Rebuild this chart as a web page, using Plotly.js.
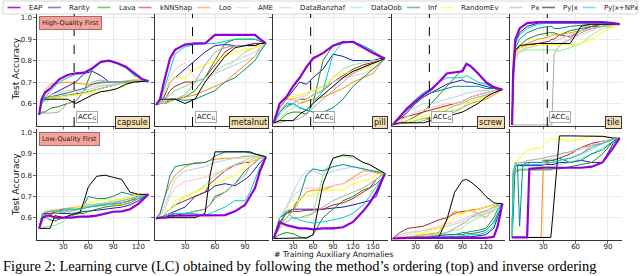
<!DOCTYPE html>
<html><head><meta charset="utf-8">
<script src="https://cdn.plot.ly/plotly-3.0.1.min.js"></script>
<style>html,body{margin:0;padding:0;background:#fff}#chart{width:640px;height:276px}</style>
</head><body><div id="chart"></div>
<script>
// ---------------- DATA ----------------
const methods = ['EAP','Rarity','Lava','kNNShap','Loo','AME','DataBanzhaf','DataOob','Inf','RandomEv','Px','Py|x','Py|x+NPx'];
const datasets = ['capsule','metalnut','pill','screw','tile'];
const accG = [43, 37.5, 56.5, 47.7, 33.7];
const xTickVals = [[30,60,90,120],[30,60,90],[30,60,90,120,150],[30,60,90,120],[30,60,90]];
const yTickVals = [0.6,0.7,0.8,0.9,1.0];

// Row 1: High-Quality First (rows follow `methods` order)
const hq_capsule_x = [1,4,8,15,25,35,45,55,65,75,85,95,105,115,125,132];
const hq_capsule = [
 [0.547,0.62,0.65,0.672,0.713,0.733,0.741,0.744,0.765,0.795,0.8,0.788,0.772,0.741,0.713,0.705],
 [0.547,0.6,0.62,0.64,0.66,0.68,0.7,0.74,0.75,0.73,0.7,0.7,0.7,0.705,0.705,0.705],
 [0.547,0.56,0.56,0.578,0.586,0.6,0.61,0.66,0.76,0.795,0.8,0.79,0.77,0.735,0.71,0.705],
 [0.547,0.61,0.62,0.63,0.63,0.64,0.645,0.65,0.66,0.67,0.68,0.69,0.7,0.7,0.705,0.705],
 [0.547,0.6,0.66,0.69,0.695,0.7,0.695,0.69,0.69,0.695,0.7,0.7,0.705,0.71,0.71,0.705],
 [0.547,0.62,0.63,0.64,0.65,0.66,0.665,0.67,0.68,0.685,0.69,0.695,0.7,0.705,0.71,0.705],
 [0.547,0.6,0.62,0.63,0.64,0.64,0.65,0.66,0.67,0.68,0.685,0.69,0.695,0.7,0.705,0.7],
 [0.547,0.6,0.61,0.62,0.63,0.635,0.64,0.65,0.66,0.67,0.68,0.69,0.7,0.7,0.71,0.705],
 [0.547,0.61,0.625,0.63,0.64,0.65,0.66,0.67,0.69,0.7,0.7,0.7,0.7,0.7,0.705,0.7],
 [0.547,0.61,0.62,0.63,0.63,0.635,0.64,0.645,0.65,0.655,0.66,0.67,0.685,0.7,0.71,0.705],
 [0.547,0.555,0.555,0.555,0.56,0.6,0.61,0.66,0.7,0.71,0.7,0.7,0.7,0.705,0.71,0.705],
 [0.547,0.62,0.62,0.62,0.62,0.62,0.6,0.62,0.64,0.655,0.66,0.67,0.69,0.7,0.705,0.705],
 [0.547,0.6,0.63,0.66,0.7,0.72,0.735,0.74,0.76,0.79,0.8,0.785,0.765,0.73,0.71,0.7]
];
const hq_metalnut_x = [1,5,10,15,20,30,40,50,60,70,80,90,100,105,111];
const hq_metalnut = [
 [0.594,0.62,0.72,0.81,0.85,0.875,0.88,0.88,0.92,0.92,0.92,0.92,0.92,0.9,0.88],
 [0.594,0.6,0.64,0.7,0.72,0.76,0.8,0.84,0.87,0.875,0.87,0.87,0.88,0.88,0.88],
 [0.594,0.6,0.6,0.62,0.62,0.63,0.66,0.72,0.8,0.88,0.9,0.9,0.9,0.89,0.88],
 [0.594,0.6,0.62,0.66,0.68,0.7,0.7,0.72,0.78,0.84,0.87,0.87,0.88,0.88,0.88],
 [0.594,0.6,0.61,0.62,0.62,0.63,0.64,0.66,0.68,0.7,0.74,0.78,0.82,0.86,0.88],
 [0.594,0.6,0.66,0.72,0.76,0.79,0.72,0.7,0.74,0.76,0.8,0.82,0.84,0.86,0.88],
 [0.594,0.61,0.63,0.64,0.66,0.68,0.7,0.72,0.74,0.76,0.78,0.8,0.82,0.85,0.88],
 [0.594,0.6,0.62,0.64,0.66,0.68,0.7,0.72,0.75,0.78,0.8,0.84,0.86,0.87,0.88],
 [0.594,0.6,0.6,0.61,0.62,0.615,0.62,0.64,0.66,0.7,0.72,0.76,0.8,0.84,0.88],
 [0.594,0.62,0.65,0.7,0.72,0.72,0.76,0.78,0.8,0.82,0.84,0.85,0.86,0.87,0.88],
 [0.594,0.6,0.6,0.61,0.62,0.64,0.7,0.78,0.84,0.86,0.87,0.87,0.87,0.88,0.88],
 [0.594,0.62,0.62,0.62,0.62,0.6,0.62,0.7,0.76,0.82,0.86,0.87,0.87,0.88,0.88],
 [0.594,0.61,0.68,0.76,0.83,0.865,0.875,0.88,0.88,0.89,0.9,0.9,0.9,0.89,0.88]
];
const hq_pill_x = [1,10,20,30,40,50,60,75,90,105,120,135,150,160,168];
const hq_pill = [
 [0.509,0.6,0.63,0.68,0.72,0.77,0.81,0.835,0.87,0.885,0.888,0.86,0.835,0.82,0.81],
 [0.509,0.58,0.62,0.66,0.7,0.69,0.72,0.76,0.83,0.82,0.8,0.8,0.8,0.81,0.81],
 [0.509,0.52,0.55,0.56,0.56,0.55,0.6,0.8,0.87,0.89,0.888,0.87,0.845,0.825,0.81],
 [0.509,0.55,0.58,0.6,0.62,0.62,0.64,0.66,0.7,0.73,0.76,0.78,0.79,0.8,0.81],
 [0.509,0.58,0.62,0.62,0.6,0.61,0.62,0.63,0.65,0.67,0.7,0.72,0.74,0.78,0.81],
 [0.509,0.56,0.6,0.62,0.63,0.65,0.66,0.68,0.7,0.72,0.73,0.74,0.76,0.78,0.81],
 [0.509,0.55,0.58,0.6,0.62,0.64,0.66,0.68,0.7,0.72,0.74,0.76,0.78,0.8,0.81],
 [0.509,0.53,0.56,0.58,0.6,0.62,0.64,0.66,0.72,0.76,0.78,0.79,0.8,0.8,0.81],
 [0.509,0.56,0.59,0.6,0.58,0.57,0.56,0.56,0.58,0.62,0.68,0.72,0.76,0.79,0.81],
 [0.509,0.6,0.63,0.63,0.64,0.65,0.66,0.68,0.72,0.74,0.75,0.76,0.78,0.8,0.81],
 [0.509,0.51,0.52,0.52,0.53,0.55,0.58,0.62,0.66,0.7,0.74,0.77,0.79,0.8,0.81],
 [0.509,0.52,0.52,0.52,0.55,0.57,0.6,0.64,0.68,0.72,0.75,0.77,0.79,0.8,0.81],
 [0.509,0.56,0.6,0.6,0.58,0.57,0.6,0.66,0.83,0.888,0.89,0.87,0.84,0.825,0.81]
];
const hq_screw_x = [1,10,20,30,40,50,60,70,80,90,95,100,110,120,130,141];
const hq_screw = [
 [0.501,0.54,0.58,0.61,0.64,0.665,0.7,0.74,0.745,0.75,0.785,0.775,0.74,0.7,0.675,0.665],
 [0.501,0.53,0.56,0.6,0.63,0.65,0.67,0.69,0.7,0.71,0.7,0.7,0.69,0.68,0.67,0.665],
 [0.501,0.51,0.52,0.54,0.56,0.6,0.64,0.68,0.72,0.76,0.785,0.775,0.74,0.7,0.68,0.665],
 [0.501,0.53,0.54,0.55,0.56,0.57,0.58,0.59,0.6,0.61,0.62,0.63,0.64,0.65,0.66,0.665],
 [0.501,0.51,0.51,0.52,0.53,0.53,0.54,0.55,0.56,0.58,0.59,0.6,0.61,0.62,0.64,0.665],
 [0.501,0.52,0.54,0.56,0.57,0.58,0.59,0.6,0.6,0.61,0.62,0.63,0.64,0.65,0.66,0.665],
 [0.501,0.54,0.57,0.58,0.6,0.6,0.61,0.62,0.63,0.64,0.65,0.65,0.66,0.66,0.67,0.665],
 [0.501,0.505,0.51,0.52,0.53,0.54,0.55,0.56,0.57,0.58,0.6,0.61,0.62,0.64,0.65,0.665],
 [0.501,0.54,0.57,0.6,0.63,0.65,0.66,0.67,0.68,0.68,0.68,0.68,0.68,0.67,0.67,0.665],
 [0.501,0.51,0.52,0.53,0.54,0.55,0.57,0.58,0.59,0.6,0.61,0.61,0.62,0.63,0.65,0.665],
 [0.501,0.505,0.51,0.51,0.52,0.53,0.55,0.57,0.59,0.6,0.61,0.62,0.63,0.64,0.65,0.665],
 [0.501,0.51,0.51,0.51,0.51,0.52,0.53,0.54,0.55,0.56,0.57,0.58,0.6,0.63,0.65,0.665],
 [0.501,0.54,0.58,0.62,0.65,0.67,0.7,0.72,0.72,0.72,0.73,0.72,0.7,0.69,0.675,0.665]
];
const hq_tile_x = [1,2,4,8,15,25,35,38,40,45,55,65,75,85,95,101];
const hq_tile = [
 [0.5,0.75,0.9,0.95,0.975,0.98,0.98,0.98,0.98,0.98,0.98,0.98,0.98,0.98,0.975,0.97],
 [0.5,0.72,0.88,0.93,0.96,0.975,0.975,0.975,0.975,0.975,0.975,0.975,0.975,0.975,0.975,0.97],
 [0.5,0.7,0.84,0.87,0.9,0.92,0.93,0.93,0.93,0.92,0.94,0.95,0.96,0.96,0.97,0.97],
 [0.5,0.72,0.84,0.86,0.87,0.88,0.89,0.9,0.9,0.92,0.91,0.94,0.96,0.97,0.97,0.97],
 [0.5,0.7,0.84,0.86,0.88,0.9,0.91,0.92,0.92,0.92,0.93,0.94,0.95,0.96,0.965,0.97],
 [0.5,0.72,0.82,0.85,0.86,0.87,0.88,0.88,0.88,0.88,0.9,0.92,0.94,0.96,0.96,0.97],
 [0.5,0.68,0.8,0.84,0.86,0.87,0.88,0.89,0.89,0.9,0.92,0.94,0.95,0.96,0.965,0.97],
 [0.5,0.68,0.82,0.84,0.85,0.85,0.85,0.85,0.85,0.845,0.86,0.88,0.92,0.95,0.96,0.97],
 [0.5,0.7,0.86,0.9,0.93,0.95,0.96,0.96,0.95,0.95,0.96,0.965,0.97,0.97,0.97,0.97],
 [0.5,0.7,0.83,0.86,0.87,0.87,0.875,0.875,0.875,0.875,0.875,0.88,0.9,0.93,0.96,0.97],
 [0.5,0.5,0.5,0.5,0.5,0.5,0.5,0.5,0.83,0.87,0.9,0.93,0.95,0.96,0.97,0.97],
 [0.5,0.72,0.85,0.87,0.875,0.88,0.88,0.88,0.88,0.88,0.88,0.96,0.97,0.97,0.97,0.97],
 [0.5,0.74,0.88,0.92,0.95,0.97,0.975,0.975,0.975,0.975,0.975,0.975,0.975,0.975,0.975,0.97]
];

// Row 2: Low-Quality First
const lq_capsule_x = [1,5,10,14,20,30,40,50,55,60,70,80,90,100,110,120,132];
const lq_capsule = [
 [0.55,0.6,0.61,0.61,0.6,0.6,0.6,0.605,0.605,0.605,0.61,0.62,0.628,0.63,0.64,0.665,0.71],
 [0.55,0.62,0.62,0.62,0.62,0.62,0.62,0.625,0.63,0.63,0.635,0.64,0.645,0.65,0.66,0.68,0.71],
 [0.55,0.6,0.6,0.59,0.585,0.6,0.61,0.62,0.62,0.63,0.64,0.65,0.655,0.66,0.67,0.69,0.71],
 [0.55,0.61,0.62,0.62,0.625,0.63,0.635,0.64,0.645,0.65,0.655,0.66,0.665,0.67,0.68,0.7,0.71],
 [0.55,0.62,0.63,0.63,0.635,0.64,0.645,0.65,0.655,0.66,0.66,0.665,0.66,0.66,0.67,0.69,0.71],
 [0.55,0.62,0.63,0.635,0.64,0.64,0.65,0.65,0.655,0.66,0.665,0.67,0.675,0.68,0.69,0.7,0.71],
 [0.55,0.58,0.6,0.61,0.62,0.63,0.635,0.64,0.65,0.655,0.66,0.665,0.67,0.68,0.69,0.7,0.71],
 [0.55,0.55,0.56,0.56,0.565,0.58,0.62,0.63,0.65,0.66,0.665,0.67,0.68,0.69,0.7,0.71,0.71],
 [0.55,0.62,0.63,0.63,0.63,0.64,0.64,0.64,0.66,0.7,0.69,0.69,0.7,0.72,0.71,0.7,0.71],
 [0.55,0.62,0.63,0.63,0.63,0.635,0.64,0.65,0.66,0.67,0.68,0.685,0.68,0.69,0.7,0.705,0.71],
 [0.55,0.6,0.61,0.615,0.62,0.625,0.63,0.64,0.645,0.65,0.66,0.665,0.67,0.68,0.69,0.7,0.71],
 [0.55,0.55,0.55,0.55,0.61,0.6,0.615,0.625,0.68,0.745,0.795,0.8,0.79,0.78,0.72,0.71,0.71],
 [0.55,0.62,0.625,0.63,0.63,0.635,0.64,0.64,0.645,0.65,0.655,0.66,0.665,0.67,0.68,0.69,0.71]
];
const lq_metalnut_x = [1,5,10,15,20,30,40,50,55,60,70,80,90,95,100,105,111];
const lq_metalnut = [
 [0.596,0.6,0.6,0.61,0.61,0.61,0.612,0.612,0.612,0.612,0.612,0.63,0.66,0.7,0.74,0.82,0.887],
 [0.596,0.6,0.61,0.62,0.63,0.65,0.7,0.72,0.73,0.75,0.76,0.75,0.78,0.8,0.83,0.86,0.887],
 [0.596,0.6,0.6,0.6,0.61,0.62,0.63,0.64,0.66,0.7,0.72,0.76,0.82,0.84,0.86,0.88,0.887],
 [0.596,0.6,0.62,0.64,0.66,0.68,0.7,0.72,0.76,0.78,0.82,0.85,0.86,0.86,0.87,0.88,0.887],
 [0.596,0.62,0.7,0.76,0.8,0.84,0.86,0.86,0.87,0.875,0.88,0.88,0.89,0.89,0.89,0.89,0.887],
 [0.596,0.61,0.64,0.7,0.74,0.77,0.78,0.79,0.8,0.81,0.82,0.84,0.86,0.87,0.88,0.885,0.887],
 [0.596,0.61,0.66,0.72,0.78,0.82,0.83,0.84,0.85,0.86,0.87,0.88,0.88,0.89,0.89,0.89,0.887],
 [0.596,0.6,0.62,0.64,0.66,0.7,0.72,0.75,0.78,0.8,0.83,0.85,0.87,0.88,0.885,0.885,0.887],
 [0.596,0.62,0.7,0.8,0.84,0.85,0.855,0.86,0.87,0.89,0.91,0.91,0.91,0.905,0.9,0.895,0.887],
 [0.596,0.6,0.62,0.64,0.68,0.7,0.72,0.74,0.75,0.76,0.78,0.8,0.84,0.86,0.87,0.88,0.887],
 [0.596,0.6,0.6,0.61,0.62,0.62,0.63,0.64,0.66,0.69,0.72,0.76,0.8,0.84,0.86,0.88,0.887],
 [0.596,0.6,0.6,0.6,0.6,0.6,0.6,0.62,0.8,0.91,0.91,0.91,0.91,0.91,0.9,0.895,0.887],
 [0.596,0.6,0.61,0.62,0.62,0.62,0.62,0.61,0.62,0.63,0.65,0.68,0.68,0.72,0.78,0.84,0.887]
];
const lq_pill_x = [1,10,20,30,40,50,60,75,90,105,120,135,145,155,162,168];
const lq_pill = [
 [0.502,0.58,0.565,0.557,0.55,0.55,0.545,0.55,0.55,0.555,0.58,0.63,0.67,0.72,0.77,0.808],
 [0.502,0.6,0.62,0.64,0.64,0.64,0.64,0.64,0.645,0.65,0.66,0.67,0.68,0.7,0.76,0.808],
 [0.502,0.52,0.53,0.525,0.51,0.502,0.52,0.6,0.64,0.68,0.7,0.73,0.74,0.76,0.78,0.808],
 [0.502,0.58,0.62,0.63,0.63,0.635,0.635,0.64,0.66,0.67,0.69,0.72,0.74,0.78,0.8,0.808],
 [0.502,0.56,0.6,0.63,0.68,0.72,0.73,0.73,0.75,0.76,0.79,0.82,0.82,0.81,0.81,0.808],
 [0.502,0.6,0.64,0.7,0.73,0.74,0.74,0.74,0.75,0.76,0.78,0.8,0.81,0.82,0.81,0.808],
 [0.502,0.6,0.65,0.72,0.78,0.82,0.82,0.8,0.82,0.83,0.84,0.83,0.82,0.82,0.81,0.808],
 [0.502,0.58,0.6,0.6,0.6,0.6,0.62,0.8,0.88,0.89,0.88,0.86,0.85,0.83,0.82,0.808],
 [0.502,0.56,0.63,0.64,0.7,0.8,0.83,0.82,0.84,0.85,0.84,0.83,0.82,0.815,0.81,0.808],
 [0.502,0.6,0.63,0.66,0.69,0.7,0.71,0.73,0.73,0.73,0.76,0.77,0.78,0.8,0.81,0.808],
 [0.502,0.55,0.58,0.6,0.6,0.61,0.62,0.65,0.68,0.7,0.72,0.74,0.76,0.78,0.8,0.808],
 [0.502,0.502,0.502,0.502,0.502,0.505,0.52,0.76,0.88,0.895,0.89,0.86,0.85,0.83,0.82,0.808],
 [0.502,0.6,0.63,0.6,0.59,0.58,0.575,0.58,0.59,0.6,0.62,0.66,0.7,0.75,0.78,0.808]
];
const lq_screw_x = [1,10,20,30,40,50,60,70,80,90,95,100,110,120,130,135,141];
const lq_screw = [
 [0.502,0.505,0.505,0.505,0.505,0.505,0.505,0.505,0.505,0.505,0.505,0.505,0.505,0.505,0.51,0.56,0.667],
 [0.502,0.505,0.505,0.505,0.505,0.505,0.505,0.51,0.51,0.51,0.51,0.51,0.515,0.52,0.55,0.6,0.667],
 [0.502,0.505,0.505,0.505,0.51,0.51,0.515,0.52,0.52,0.52,0.525,0.525,0.53,0.54,0.58,0.62,0.667],
 [0.502,0.53,0.55,0.555,0.56,0.575,0.59,0.6,0.62,0.63,0.63,0.635,0.64,0.65,0.66,0.665,0.667],
 [0.502,0.505,0.51,0.515,0.52,0.525,0.53,0.59,0.63,0.62,0.63,0.635,0.62,0.6,0.64,0.66,0.667],
 [0.502,0.51,0.52,0.53,0.54,0.55,0.56,0.57,0.58,0.59,0.6,0.61,0.62,0.635,0.65,0.66,0.667],
 [0.502,0.52,0.53,0.535,0.54,0.545,0.55,0.56,0.57,0.58,0.59,0.6,0.61,0.62,0.64,0.655,0.667],
 [0.502,0.505,0.51,0.51,0.515,0.52,0.525,0.53,0.54,0.55,0.57,0.58,0.6,0.62,0.63,0.65,0.667],
 [0.502,0.505,0.505,0.51,0.51,0.51,0.515,0.52,0.52,0.53,0.53,0.535,0.54,0.55,0.6,0.64,0.667],
 [0.502,0.505,0.51,0.52,0.53,0.54,0.55,0.57,0.6,0.62,0.63,0.63,0.64,0.65,0.66,0.665,0.667],
 [0.502,0.505,0.505,0.51,0.51,0.515,0.52,0.53,0.55,0.57,0.58,0.6,0.62,0.63,0.65,0.66,0.667],
 [0.502,0.505,0.505,0.505,0.505,0.505,0.51,0.59,0.72,0.775,0.78,0.77,0.74,0.7,0.67,0.667,0.667],
 [0.502,0.505,0.505,0.505,0.505,0.505,0.51,0.51,0.51,0.515,0.515,0.52,0.52,0.53,0.56,0.62,0.667]
];
const lq_tile_x = [1,2,4,6,8,11,15,17,28,30,37,39,45,55,65,75,85,95,101];
const lq_tile = [
 [0.507,0.507,0.507,0.507,0.507,0.507,0.507,0.83,0.835,0.835,0.835,0.835,0.835,0.835,0.835,0.84,0.86,0.93,0.974],
 [0.507,0.8,0.84,0.845,0.845,0.845,0.845,0.845,0.845,0.85,0.85,0.85,0.86,0.86,0.87,0.86,0.86,0.95,0.974],
 [0.507,0.78,0.82,0.82,0.825,0.825,0.825,0.825,0.825,0.825,0.825,0.83,0.83,0.84,0.85,0.86,0.9,0.96,0.974],
 [0.507,0.8,0.84,0.85,0.85,0.85,0.85,0.86,0.86,0.86,0.87,0.87,0.88,0.9,0.93,0.95,0.96,0.97,0.974],
 [0.507,0.507,0.507,0.507,0.507,0.507,0.507,0.507,0.507,0.85,0.86,0.86,0.87,0.88,0.9,0.94,0.95,0.97,0.974],
 [0.507,0.8,0.84,0.85,0.85,0.86,0.86,0.86,0.86,0.87,0.88,0.88,0.9,0.91,0.92,0.94,0.96,0.97,0.974],
 [0.507,0.82,0.85,0.86,0.86,0.86,0.86,0.86,0.86,0.86,0.86,0.86,0.87,0.88,0.9,0.92,0.95,0.97,0.974],
 [0.507,0.78,0.82,0.83,0.83,0.83,0.83,0.83,0.84,0.84,0.84,0.84,0.85,0.86,0.88,0.9,0.93,0.96,0.974],
 [0.507,0.6,0.86,0.85,0.56,0.85,0.86,0.86,0.86,0.87,0.87,0.87,0.88,0.86,0.87,0.9,0.92,0.96,0.974],
 [0.507,0.8,0.85,0.87,0.88,0.9,0.92,0.92,0.93,0.94,0.97,0.97,0.97,0.96,0.97,0.985,0.98,0.975,0.974],
 [0.507,0.8,0.84,0.85,0.86,0.86,0.87,0.87,0.88,0.88,0.89,0.89,0.9,0.91,0.93,0.94,0.95,0.97,0.974],
 [0.507,0.507,0.507,0.507,0.507,0.507,0.507,0.507,0.507,0.507,0.507,0.62,0.985,0.985,0.985,0.985,0.983,0.975,0.974],
 [0.507,0.82,0.85,0.85,0.85,0.85,0.85,0.85,0.85,0.86,0.86,0.86,0.87,0.88,0.9,0.93,0.95,0.97,0.974]
];

// ---------------- STYLE / LAYOUT ----------------
const lineColors = ['#9400d3','#1c1cb4','#1e8a1e','#b22222','#ff8c00','#ffc0cb','#add8e6','#90ee90','#008b8b','#ffff00','#a9a9a9','#000000','#00ced1'];
const legendAlpha = 0.55;
const legendTextX = [26.5,67,116.5,157.5,216.5,255.5,298,368.5,426,458.5,528.5,561,601.5];
const W = 640, H = 276;
const px = v => v / W, py = v => 1 - v / H;
const colDom = [[37.3,150],[155,269],[273,388],[392,505],[509.5,622]];
const rowDom = [[14,126],[129,240]];
const xRanges = [[-1.2,134],[0,114],[0,172.5],[0,144.3],[-1.4,103.1]];
const yRange = [0.495,1.0175];
const FONT = 'DejaVu Sans';

const rowsX = [[hq_capsule_x,hq_metalnut_x,hq_pill_x,hq_screw_x,hq_tile_x],[lq_capsule_x,lq_metalnut_x,lq_pill_x,lq_screw_x,lq_tile_x]];
const rowsY = [[hq_capsule,hq_metalnut,hq_pill,hq_screw,hq_tile],[lq_capsule,lq_metalnut,lq_pill,lq_screw,lq_tile]];

function hexToRgba(h,a){const n=parseInt(h.slice(1),16);return `rgba(${n>>16&255},${n>>8&255},${n&255},${a})`;}

const traces = [];
const layout = {
  width: W, height: H, margin: {l:0,r:0,t:0,b:0},
  paper_bgcolor: 'white', plot_bgcolor: 'white', showlegend: false,
  font: {family: FONT, size: 7, color: '#222'},
  annotations: [], shapes: []
};

for (let r = 0; r < 2; r++) {
  for (let c = 0; c < 5; c++) {
    const k = r*5 + c + 1;
    const sfx = k === 1 ? '' : String(k);
    const xs = rowsX[r][c], ys = rowsY[r][c];
    const order = [1,2,3,4,5,6,7,8,9,10,11,12,0];
    order.forEach(m => {
      traces.push({
        type: 'scatter', mode: 'lines', name: methods[m],
        x: xs, y: ys[m], xaxis: 'x'+sfx, yaxis: 'y'+sfx,
        line: {color: lineColors[m], width: m === 0 ? 2.2 : 1},
        hoverinfo: 'skip'
      });
    });
    layout['xaxis'+sfx] = {
      domain: [px(colDom[c][0]), px(colDom[c][1])], range: xRanges[c], anchor: 'y'+sfx,
      tickmode: 'array', tickvals: xTickVals[c], showticklabels: r === 1,
      ticks: 'outside', ticklen: 3, tickcolor: '#444', tickwidth: 0.8, ticklabelstandoff: -3,
      showline: true, linecolor: '#333', linewidth: 1, mirror: false,
      showgrid: true, gridcolor: '#e6e6e6', gridwidth: 0.8, zeroline: false,
      tickfont: {family: FONT, size: 7, color: '#222'}, fixedrange: true
    };
    layout['yaxis'+sfx] = {
      domain: [py(rowDom[r][1]), py(rowDom[r][0])], range: yRange, anchor: 'x'+sfx,
      tickmode: 'array', tickvals: yTickVals, tickformat: '.1f', showticklabels: c === 0,
      ticks: 'outside', ticklen: 3, tickcolor: '#444', tickwidth: 0.8,
      showline: true, linecolor: '#333', linewidth: 1, mirror: false,
      showgrid: true, gridcolor: '#e6e6e6', gridwidth: 0.8, zeroline: false,
      tickfont: {family: FONT, size: 7, color: '#222'}, fixedrange: true
    };
    if (r === 0) {
      layout.shapes.push({type:'line', xref:'x'+sfx, yref:'y'+sfx+' domain', x0: accG[c], x1: accG[c], y0: 0, y1: 1,
        line: {color:'black', width: 1, dash: 'dash'}});
      layout.annotations.push({xref:'x'+sfx, yref:'y'+sfx+' domain', x: accG[c], y: 0, xanchor:'left', yanchor:'bottom',
        xshift: 2, yshift: 3, text: 'ACC<sub>G</sub>', showarrow: false, bgcolor: 'white', bordercolor: '#aaa',
        borderwidth: 1, borderpad: 1, font: {family: FONT, size: 7, color: '#111'}});
      layout.annotations.push({xref:'x'+sfx+' domain', yref:'y'+sfx+' domain', x: 1, y: 0, xanchor:'right', yanchor:'bottom',
        yshift: -3, text: datasets[c], showarrow: false, bgcolor: '#f5deb3', bordercolor: '#333',
        borderwidth: 1, borderpad: 1, font: {family: FONT, size: 8, color: '#111'}});
    }
  }
}

// Quality order boxes
layout.annotations.push({xref:'paper', yref:'paper', x: px(39), y: py(23), xanchor:'left', yanchor:'middle',
  text:'High-Quality First', showarrow:false, bgcolor:'#f6a29b', bordercolor:'#a86a66', borderwidth:1, borderpad:2,
  font:{family: FONT, size: 6.5, color:'#222'}});
layout.annotations.push({xref:'paper', yref:'paper', x: px(39), y: py(138.5), xanchor:'left', yanchor:'middle',
  text:'Low-Quality First', showarrow:false, bgcolor:'#f6a29b', bordercolor:'#a86a66', borderwidth:1, borderpad:2,
  font:{family: FONT, size: 6.5, color:'#222'}});

// Axis titles
[69, 184.5].forEach(yc => layout.annotations.push({xref:'paper', yref:'paper', x: px(15.5), y: py(yc), xanchor:'center', yanchor:'middle',
  text:'Test Accuracy', textangle: -90, showarrow:false, font:{family: FONT, size: 9, color:'#111'}}));
layout.annotations.push({xref:'paper', yref:'paper', x: px(333.5), y: py(254), xanchor:'center', yanchor:'middle',
  text:'# Training Auxiliary Anomalies', showarrow:false, font:{family: FONT, size: 7.8, color:'#111'}});

// Legend (manual, single row)
layout.shapes.push({type:'rect', xref:'paper', yref:'paper', x0: px(3), x1: px(637), y0: py(14), y1: py(1),
  line:{color:'#cccccc', width: 0.8}, fillcolor:'white', layer:'below'});
methods.forEach((m, i) => {
  const tx = legendTextX[i];
  layout.shapes.push({type:'line', xref:'paper', yref:'paper', x0: px(tx-19), x1: px(tx-6), y0: py(7.5), y1: py(7.5),
    line:{color: hexToRgba(lineColors[i], i === 0 ? 0.85 : legendAlpha), width: 1.6}});
  layout.annotations.push({xref:'paper', yref:'paper', x: px(tx), y: py(7.5), xanchor:'left', yanchor:'middle',
    text: m, showarrow:false, font:{family: FONT, size: 7, color:'#222'}});
});

// Caption (kept fully inside the lower edge)
layout.annotations.push({xref:'paper', yref:'paper', x: px(2), y: py(276), xanchor:'left', yanchor:'bottom',
  text:'Figure 2: Learning curve (LC) obtained by following the method’s ordering (top) and inverse ordering',
  showarrow:false, borderpad: 0, font:{family:'Liberation Serif', size: 14.5, color:'#000'}});

Plotly.newPlot('chart', traces, layout, {staticPlot: true, displayModeBar: false});
</script>
</body></html>
